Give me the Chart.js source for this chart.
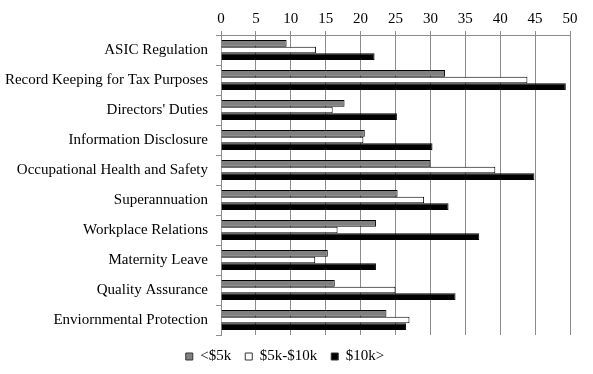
<!DOCTYPE html>
<html>
<head>
<meta charset="utf-8">
<script src="https://cdn.jsdelivr.net/npm/chart.js@4/dist/chart.umd.min.js"></script>
<style>
html,body{margin:0;padding:0;background:#fff;}
#wrap{width:593px;height:374px;}
</style>
</head>
<body>
<div id="wrap"><canvas id="c" width="593" height="374"></canvas></div>
<script>
const categories = ["ASIC Regulation","Record Keeping for Tax Purposes","Directors' Duties","Information Disclosure","Occupational Health and Safety","Superannuation","Workplace Relations","Maternity Leave","Quality Assurance","Enviornmental Protection"];
const seriesNames = ["<$5k","$5k-$10k","$10k>"];
const under5k = [9.4,32.1,17.7,20.6,30.0,25.3,22.2,15.3,16.3,23.7];
const from5kTo10k = [13.6,43.9,16.0,20.4,39.3,29.1,16.7,13.5,25.0,27.0];
const over10k = [22.0,49.4,25.2,30.3,44.9,32.6,37.0,22.2,33.6,26.5];
const xTicks = [0,5,10,15,20,25,30,35,40,45,50];

const font = {family:"'Liberation Serif','Times New Roman',serif", size:15};

new Chart(document.getElementById('c'), {
  type:'bar',
  data:{
    labels:categories,
    datasets:[
      {label:seriesNames[0], data:under5k, backgroundColor:'#808080', borderColor:'#000', borderWidth:1},
      {label:seriesNames[1], data:from5kTo10k, backgroundColor:'#ffffff', borderColor:'#000', borderWidth:1},
      {label:seriesNames[2], data:over10k, backgroundColor:'#000000', borderColor:'#000', borderWidth:1}
    ]
  },
  options:{
    indexAxis:'y',
    responsive:false,
    animation:false,
    devicePixelRatio:1,
    categoryPercentage:0.66,
    barPercentage:1.0,
    layout:{padding:{left:0,right:23,top:7,bottom:0}},
    plugins:{
      legend:{
        position:'bottom',
        labels:{font:font, color:'#000', boxWidth:7, boxHeight:7, padding:14,
          generateLabels(chart){
            return chart.data.datasets.map((d,i)=>({text:d.label, fillStyle:d.backgroundColor, strokeStyle:'#333', lineWidth:1, datasetIndex:i, fontColor:'#000'}));
          }}
      },
      tooltip:{enabled:false}
    },
    scales:{
      x:{
        position:'top',
        min:0,max:50,
        afterBuildTicks(scale){ scale.ticks = xTicks.map(v=>({value:v})); },
        ticks:{font:font, color:'#000', padding:3},
        grid:{color:'#8c8c8c', lineWidth:1, tickLength:4, tickColor:'#8c8c8c'},
        border:{color:'#8c8c8c'}
      },
      y:{
        afterFit(scale){ scale.width = 221; },
        ticks:{font:font, color:'#000', padding:8},
        grid:{drawOnChartArea:false, tickLength:5, tickColor:'#8c8c8c', offset:true},
        border:{color:'#8c8c8c'}
      }
    }
  }
});
</script>
</body>
</html>
